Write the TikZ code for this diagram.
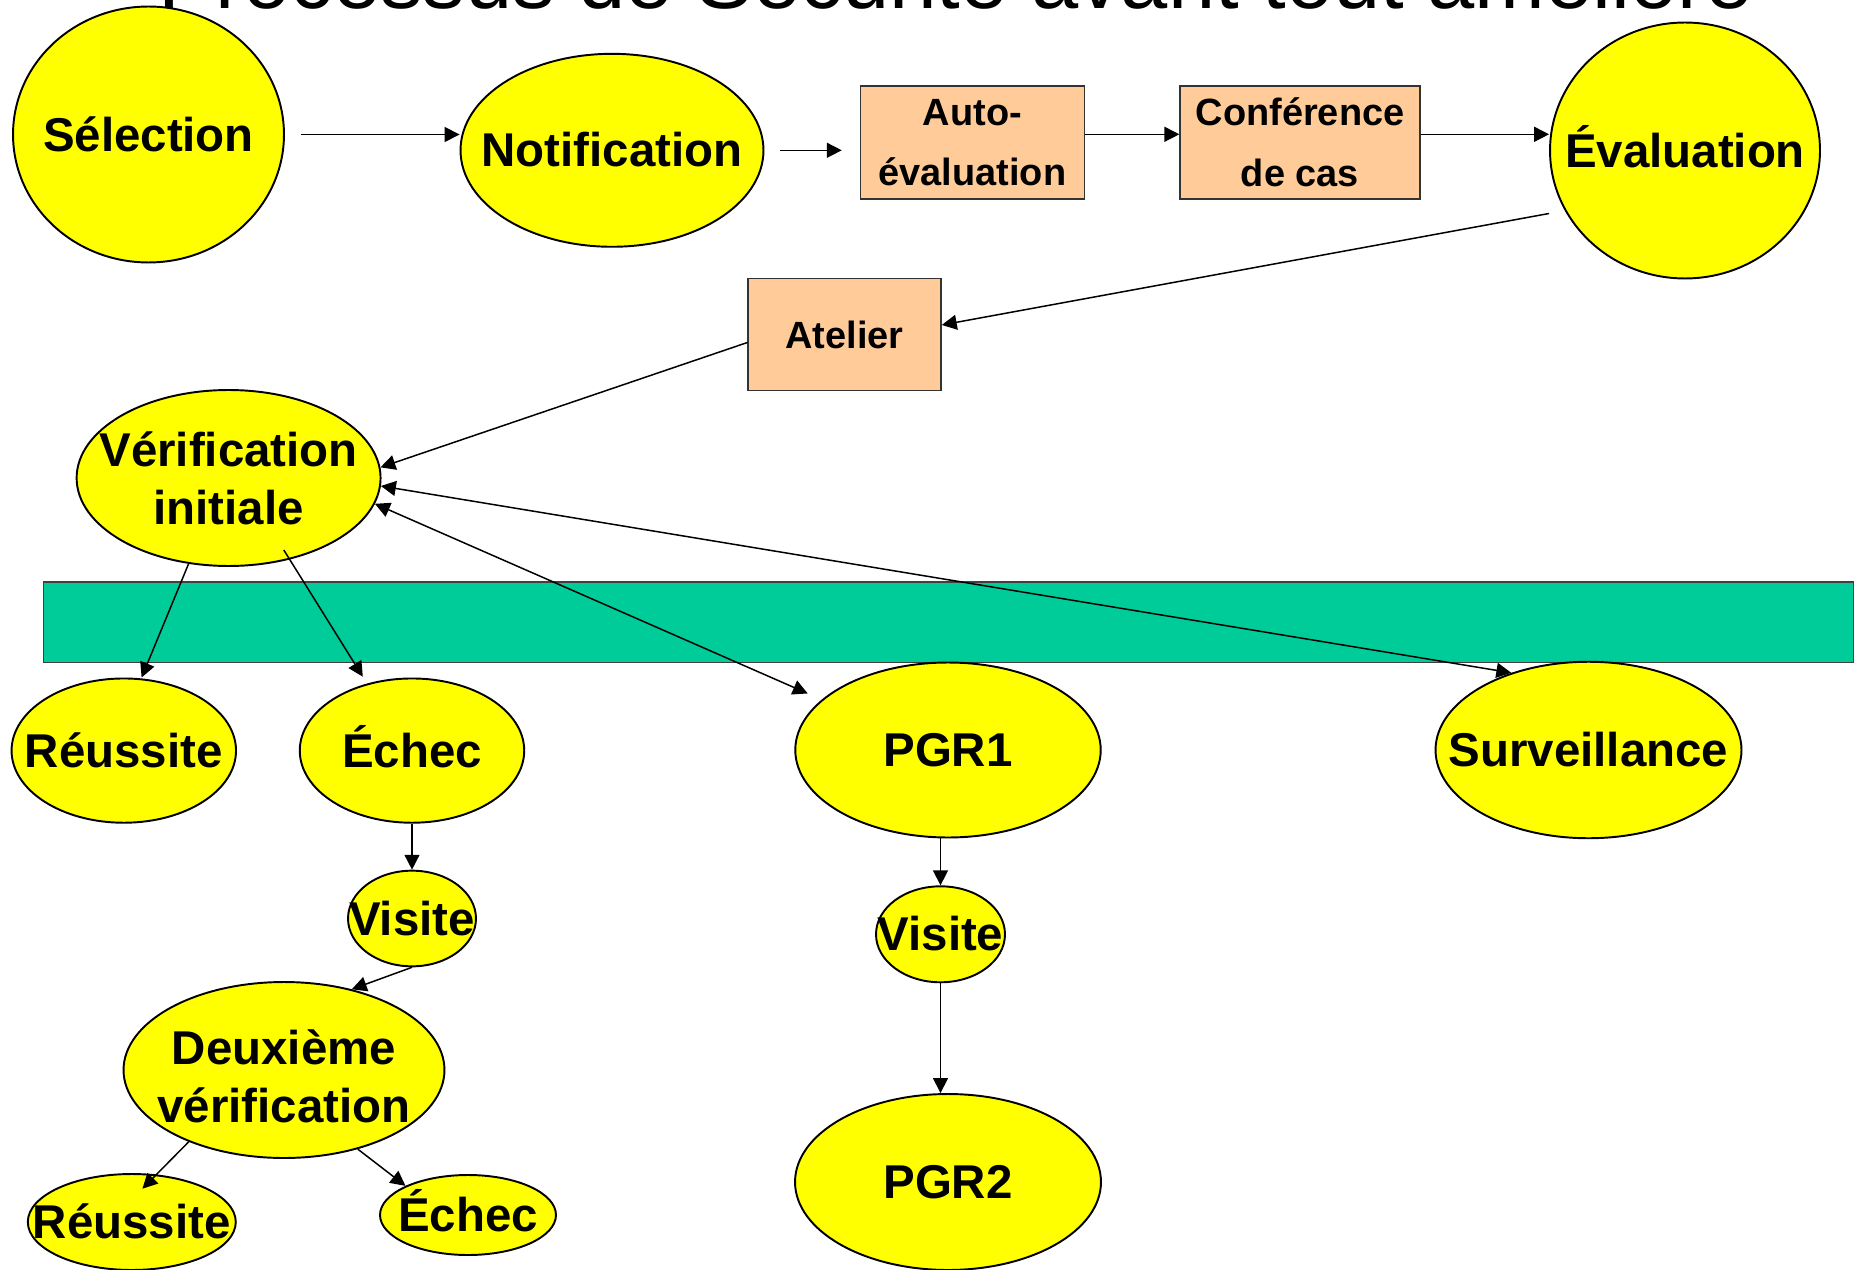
\documentclass[tikz,border=0pt]{standalone}
\usepackage{fontspec}
\setmainfont{Liberation Sans}
\usetikzlibrary{shapes.geometric, arrows.meta}
\definecolor{yel}{HTML}{FFFF00}
\definecolor{peach}{HTML}{FFCC99}
\definecolor{barcol}{HTML}{00CC99}
\newcommand\ovaltxt{\fontsize{27}{33}\selectfont\bfseries}
\newcommand\boxtxt{\fontsize{21.6}{34.5}\selectfont\bfseries}
\newcommand\titletxt{\fontsize{48.3}{58}\selectfont}
\begin{document}
\begin{tikzpicture}[x=0.02cm, y=-0.02cm,
  oval/.style={ellipse, draw=black, fill=yel, line width=1.1pt, inner sep=0pt},
  peachbox/.style={rectangle, draw=black!80, fill=peach, line width=0.8pt, inner sep=0pt, font=\boxtxt, align=center},
  lbl/.style={font=\ovaltxt, align=center, inner sep=0pt},
  lblone/.style={font=\ovaltxt, inner sep=0pt, text height=24.4pt, text depth=5.4pt},
  arr/.style={-{Triangle[length=8.5pt,width=8.5pt]}, line width=0.85pt},
  darr/.style={{Triangle[length=8.5pt,width=8.5pt]}-{Triangle[length=8.5pt,width=8.5pt]}, line width=0.85pt}
]
\useasboundingbox (0,0) rectangle (1859,1270);
\begin{scope}
\clip (0,0) rectangle (1859,1270);
\node[font=\titletxt, anchor=base, inner sep=0pt] (title) at (956,9) {Processus de Sécurité avant tout amélioré};

% green bar
\node[draw=black!75, fill=barcol, line width=0.8pt, inner sep=0pt, minimum width=36.2cm, minimum height=1.614cm] (bar) at (948.4,622.3) {};

% top row
\node[oval, minimum width=5.42cm, minimum height=5.12cm, label={[lblone]center:Sélection}] (sel) at (148.5,134.5) {};
\node[oval, minimum width=6.06cm, minimum height=3.86cm, label={[lblone]center:Notification}] (notif) at (612,150.3) {};
\node[peachbox, minimum width=4.47cm, minimum height=2.26cm] (auto) at (972.5,142.5) {Auto-\\évaluation};
\node[peachbox, minimum width=4.80cm, minimum height=2.26cm] (conf) at (1300,142.5) {Conférence\\de cas};
\node[oval, minimum width=5.40cm, minimum height=5.12cm, label={[lblone]center:Évaluation}] (eval) at (1685,150.5) {};
\node[peachbox, minimum width=3.86cm, minimum height=2.24cm] (atelier) at (844.6,334.5) {Atelier};
\node[oval, minimum width=6.08cm, minimum height=3.52cm, label={[lbl]center:{Vérification\\initiale}}] (verif) at (228.6,478) {};

% lower part
\node[oval, minimum width=4.49cm, minimum height=2.886cm, label={[lblone]center:Réussite}] (reu1) at (123.8,750.6) {};
\node[oval, minimum width=4.49cm, minimum height=2.886cm, label={[lblone]center:Échec}] (ech1) at (412,750.6) {};
\node[oval, minimum width=2.56cm, minimum height=1.914cm, label={[lblone]center:Visite}] (vis1) at (412,918.5) {};
\node[oval, minimum width=6.42cm, minimum height=3.52cm, label={[lbl, yshift=-0.13cm]center:{Deuxième\\vérification}}] (deux) at (284,1070) {};
\node[oval, minimum width=4.16cm, minimum height=1.92cm, label={[lblone]center:Réussite}] (reu2) at (131.8,1222) {};
\node[oval, minimum width=3.52cm, minimum height=1.60cm, label={[lblone]center:Échec}] (ech2) at (468,1215) {};
\node[oval, minimum width=6.11cm, minimum height=3.50cm, label={[lblone]center:PGR1}] (pgr1) at (948,750) {};
\node[oval, minimum width=2.58cm, minimum height=1.92cm, label={[lblone]center:Visite}] (vis2) at (940.5,934.3) {};
\node[oval, minimum width=6.12cm, minimum height=3.52cm, label={[lblone]center:PGR2}] (pgr2) at (948,1182) {};
\node[oval, minimum width=6.12cm, minimum height=3.53cm, label={[lblone]center:Surveillance}] (surv) at (1588.5,750) {};

% connectors
\draw[arr, shorten <=0.32cm] (sel.east) -- (sel.east -| notif.west);
\draw[arr, shorten <=0.31cm, shorten >=0.366cm] (notif.east) -- (notif.east -| auto.west);
\draw[arr] ([yshift=0.164cm]auto.east) -- ([yshift=0.164cm]auto.east -| conf.west);
\draw[arr] ([yshift=0.164cm]conf.east) -- ([yshift=0.164cm]conf.east -| eval.west);
\draw[arr] ([yshift=-1.26cm]eval.west) -- ([yshift=0.19cm]atelier.east);
\draw[arr] ([yshift=-0.16cm]atelier.west) -- (verif.4);
\draw[darr] (verif.-3) -- (surv.135);
\draw[darr] (verif.-10) -- ([xshift=-0.29cm,yshift=0.114cm]pgr1.158);
\draw[arr] (verif.-115) -- ([xshift=0.356cm]reu1.north);
\draw[arr] ([xshift=1.104cm,yshift=-1.44cm]verif.center) -- ([xshift=-0.984cm,yshift=0.016cm]ech1.north);
\draw[arr] (ech1.south) -- (vis1.north);
\draw[arr] (vis1.south) -- (deux.50);
\draw[arr] (deux.-143) -- ([xshift=0.212cm,yshift=-0.314cm]reu2.north);
\draw[arr] (deux.-47) -- (ech2.155);
\draw[arr] (pgr1.south -| vis2.north) -- (vis2.north);
\draw[arr] (vis2.south) -- (vis2.south |- pgr2.north);
\end{scope}
\end{tikzpicture}
\end{document}
